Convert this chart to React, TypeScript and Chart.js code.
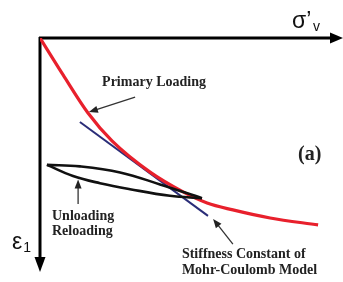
import React, { useEffect, useRef } from "react";
import { Chart, registerables } from "chart.js";

Chart.register(...registerables);

// Data units: sigma'_v along x (0..100), epsilon_1 along y (0..80, downward)
const primaryX = [0, 7.7, 16, 24, 36.7, 47.7, 55.7, 64.3, 76.7, 92.7];
const primaryY = [0, 12.3, 25, 34.3, 44.7, 51.3, 55, 57.3, 60, 62.3];

const mohrX = [13.3, 56];
const mohrY = [28, 59.3];

const unloadX = [2.3, 13.3, 26.7, 40, 54];
const unloadY = [42.3, 42.8, 44.8, 48.8, 53.4];
const reloadX = [54, 43.3, 30, 20, 11, 2.3];
const reloadY = [53.4, 52.6, 50.4, 48.4, 46, 42.3];

const axisXEnd = 101;
const axisYEnd = 78;

const xLabel = "σ’";
const xLabelSub = "v";
const yLabel = "ε";
const yLabelSub = "1";
const primaryLabel = "Primary Loading";
const panelLabel = "(a)";
const loopLabels = ["Unloading", "Reloading"];
const mohrLabels = ["Stiffness Constant of", "Mohr-Coulomb Model"];

const toPts = (xs: number[], ys: number[]) => xs.map((x, i) => ({ x, y: ys[i] }));

function arrowLine(ctx: CanvasRenderingContext2D, x1: number, y1: number, x2: number, y2: number, len: number, half: number) {
  const a = Math.atan2(y2 - y1, x2 - x1);
  const c = Math.cos(a), s = Math.sin(a);
  ctx.beginPath();
  ctx.moveTo(x1, y1);
  ctx.lineTo(x2 - len * 0.7 * c, y2 - len * 0.7 * s);
  ctx.stroke();
  ctx.beginPath();
  ctx.moveTo(x2, y2);
  ctx.lineTo(x2 - len * c + half * s, y2 - len * s - half * c);
  ctx.lineTo(x2 - len * c - half * s, y2 - len * s + half * c);
  ctx.closePath();
  ctx.fill();
}

const sketchPlugin = {
  id: "sketch",
  beforeDatasetsDraw(chart: any) {
    const { ctx, scales } = chart;
    const X = (v: number) => scales.x.getPixelForValue(v);
    const Y = (v: number) => scales.y.getPixelForValue(v);
    ctx.save();
    ctx.strokeStyle = "#000";
    ctx.fillStyle = "#000";
    ctx.lineWidth = 3;
    arrowLine(ctx, X(0) - 1, Y(0), X(axisXEnd), Y(0), 13, 5.5);
    arrowLine(ctx, X(0), Y(0) - 1, X(0), Y(axisYEnd), 15, 5.5);
    ctx.restore();
  },
  afterDatasetsDraw(chart: any) {
    const { ctx, scales } = chart;
    const X = (v: number) => scales.x.getPixelForValue(v);
    const Y = (v: number) => scales.y.getPixelForValue(v);
    ctx.save();
    ctx.textAlign = "left";
    ctx.textBaseline = "alphabetic";
    // axis labels
    ctx.fillStyle = "#111";
    ctx.font = "23px 'Liberation Sans', Arial, sans-serif";
    ctx.fillText(xLabel, X(84), Y(-3.3));
    ctx.font = "14px 'Liberation Sans', Arial, sans-serif";
    ctx.fillText(xLabelSub, X(91), Y(-2.3));
    ctx.font = "23px 'Liberation Sans', Arial, sans-serif";
    ctx.fillText(yLabel, X(-9.3), Y(70.3));
    ctx.font = "14px 'Liberation Sans', Arial, sans-serif";
    ctx.fillText(yLabelSub, X(-5.6), Y(71.3));

    // annotations
    ctx.fillStyle = "#222";
    ctx.font = "bold 14px 'Liberation Serif', 'Times New Roman', serif";
    ctx.fillText(primaryLabel, X(20.7), Y(16));
    ctx.fillText(loopLabels[0], X(4), Y(60.8));
    ctx.fillText(loopLabels[1], X(4), Y(65.8));
    ctx.fillText(mohrLabels[0], X(47.3), Y(73.3));
    ctx.fillText(mohrLabels[1], X(47.3), Y(78.7));
    ctx.font = "bold 20px 'Liberation Serif', 'Times New Roman', serif";
    ctx.fillText(panelLabel, X(86), Y(40.7));

    ctx.strokeStyle = "#333";
    ctx.fillStyle = "#222";
    ctx.lineWidth = 1.3;
    arrowLine(ctx, X(31.7), Y(19.7), X(16.3), Y(24.7), 9, 3.5);
    arrowLine(ctx, X(12.7), Y(55.3), X(12.7), Y(47.2), 9, 3.5);
    arrowLine(ctx, X(64.3), Y(68.7), X(57.7), Y(60.3), 9, 3.5);
    ctx.restore();
  },
};

export default function App() {
  const ref = useRef<HTMLCanvasElement>(null);
  useEffect(() => {
    if (!ref.current) return;
    const chart = new Chart(ref.current, {
      type: "scatter",
      data: {
        datasets: [
          {
            data: toPts(unloadX, unloadY),
            showLine: true,
            borderColor: "#111",
            borderWidth: 2.6,
            pointRadius: 0,
            tension: 0.4,
          },
          {
            data: toPts(reloadX, reloadY),
            showLine: true,
            borderColor: "#111",
            borderWidth: 2.6,
            pointRadius: 0,
            tension: 0.4,
          },
          {
            data: toPts(primaryX, primaryY),
            showLine: true,
            borderColor: "#e8202c",
            borderWidth: 3.2,
            pointRadius: 0,
            cubicInterpolationMode: "monotone",
          },
          {
            data: toPts(mohrX, mohrY),
            showLine: true,
            borderColor: "#2a2d78",
            borderWidth: 2,
            pointRadius: 0,
          },
        ],
      },
      options: {
        animation: false,
        responsive: false,
        devicePixelRatio: 1,
        layout: { padding: { left: 40, top: 38, right: 3, bottom: 4 } },
        scales: {
          x: { type: "linear", min: 0, max: 100, display: false },
          y: { type: "linear", min: 0, max: 80, reverse: true, display: false },
        },
        plugins: { legend: { display: false }, tooltip: { enabled: false } },
      } as any,
      plugins: [sketchPlugin],
    });
    return () => chart.destroy();
  }, []);
  return (
    <div style={{ position: "fixed", left: 0, top: 0, width: 343, height: 282, background: "#fff" }}>
      <canvas ref={ref} width={343} height={282} style={{ display: "block" }} />
    </div>
  );
}
